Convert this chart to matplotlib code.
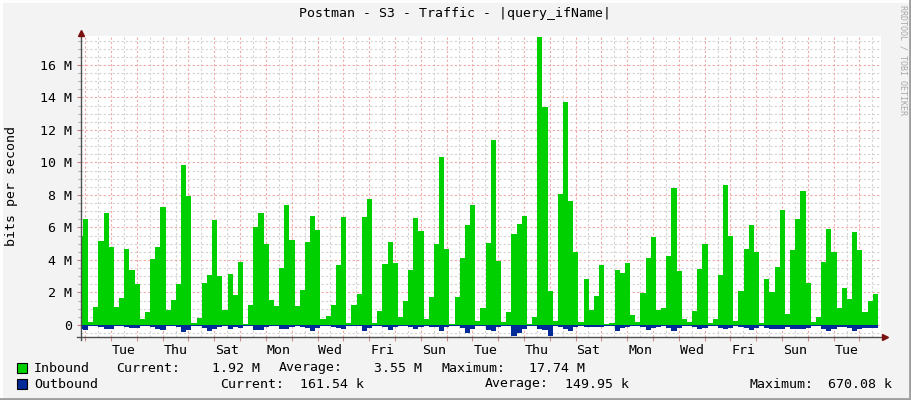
import numpy as np
import matplotlib
matplotlib.use("Agg")
import matplotlib.pyplot as plt
from matplotlib.lines import Line2D
from matplotlib.patches import Rectangle

# ---------------- data (Mbit/s, one value per 4.8 h sample) ----------------
inbound = [
    5.48,
    6.52, 0.16, 1.13, 5.17, 6.89, 4.80, 1.13, 1.66, 4.68, 3.38, 2.52, 0.37, 0.80,
    4.06, 4.80, 7.26, 0.92, 1.54, 2.52, 9.85, 7.94, 0.12, 0.45, 2.58, 3.08, 6.46,
    3.02, 0.92, 3.14, 1.85, 3.88, 0.06, 1.23, 6.03, 6.89, 4.98, 1.54, 1.17, 3.51,
    7.38, 5.23, 1.17, 2.15, 5.11, 6.71, 5.85, 0.37, 0.55, 1.23, 3.69, 6.65, 0.12,
    1.23, 1.91, 6.65, 7.75, 0.12, 0.86, 3.75, 5.11, 3.82, 0.49, 1.48, 3.38, 6.58,
    5.78, 0.37, 1.72, 4.98, 10.34, 4.68, 0.06, 1.72, 4.12, 6.15, 7.38, 0.25, 1.05,
    5.05, 11.38, 3.94, 0.18, 0.80, 5.60, 6.22, 6.71, 0.06, 0.49, 17.74, 13.42, 2.09,
    0.25, 8.06, 13.72, 7.63, 4.49, 0.18, 2.83, 0.92, 1.78, 3.69, 0.06, 0.12, 3.38,
    3.20, 3.82, 0.62, 0.18, 1.97, 4.12, 5.42, 0.92, 1.05, 4.25, 8.43, 3.32, 0.37,
    0.18, 0.86, 3.45, 4.98, 0.12, 0.37, 3.08, 8.62, 5.48, 0.25, 2.09, 4.68, 6.15,
    4.49, 0.12, 2.83, 2.03, 3.57, 7.08, 0.68, 4.62, 6.52, 8.25, 2.58, 0.18, 0.49,
    3.88, 5.91, 4.49, 1.05, 2.28, 1.60, 5.72, 4.62, 0.80, 1.48, 1.92,
]
outbound = [
    0.25,
    0.28, 0.08, 0.06, 0.15, 0.25, 0.25, 0.08, 0.06, 0.15, 0.18, 0.20, 0.05, 0.05,
    0.12, 0.25, 0.28, 0.08, 0.08, 0.15, 0.42, 0.30, 0.06, 0.05, 0.18, 0.38, 0.22,
    0.15, 0.06, 0.25, 0.15, 0.18, 0.04, 0.08, 0.30, 0.30, 0.15, 0.06, 0.06, 0.22,
    0.25, 0.12, 0.05, 0.10, 0.20, 0.35, 0.20, 0.05, 0.05, 0.10, 0.20, 0.25, 0.06,
    0.06, 0.08, 0.37, 0.18, 0.05, 0.05, 0.15, 0.30, 0.12, 0.05, 0.08, 0.15, 0.27,
    0.15, 0.05, 0.10, 0.15, 0.37, 0.15, 0.04, 0.08, 0.20, 0.51, 0.25, 0.06, 0.08,
    0.31, 0.37, 0.15, 0.06, 0.08, 0.67, 0.50, 0.25, 0.05, 0.06, 0.25, 0.30, 0.67,
    0.08, 0.10, 0.25, 0.37, 0.15, 0.05, 0.10, 0.10, 0.10, 0.10, 0.05, 0.05, 0.37,
    0.20, 0.12, 0.08, 0.05, 0.15, 0.28, 0.16, 0.10, 0.08, 0.16, 0.37, 0.16, 0.06,
    0.06, 0.12, 0.22, 0.16, 0.05, 0.05, 0.16, 0.25, 0.16, 0.05, 0.10, 0.18, 0.28,
    0.16, 0.05, 0.16, 0.22, 0.22, 0.22, 0.10, 0.22, 0.22, 0.22, 0.16, 0.08, 0.08,
    0.22, 0.37, 0.22, 0.12, 0.12, 0.16, 0.37, 0.22, 0.16, 0.16, 0.16,
]
ytick_vals = [0, 2, 4, 6, 8, 10, 12, 14, 16]
ytick_labels = ["0", "2 M", "4 M", "6 M", "8 M", "10 M", "12 M", "14 M", "16 M"]
day_labels = ["Tue", "Thu", "Sat", "Mon", "Wed", "Fri", "Sun", "Tue",
              "Thu", "Sat", "Mon", "Wed", "Fri", "Sun", "Tue"]

title = "Postman - S3 - Traffic - |query_ifName|"
legend_rows = [
    ("Inbound", "#00CF00", [("Current:", 116), ("1.92 M", 212), ("Average:", 279),
                            ("3.55 M", 374), ("Maximum:", 441), ("17.74 M", 529)]),
    ("Outbound", "#002A97", [("Current:", 220), ("161.54 k", 300), ("Average:", 485),
                             ("149.95 k", 565), ("Maximum:", 750), ("670.08 k", 828)]),
]

# ---------------- layout ----------------
W, H = 911, 400
MONO = "DejaVu Sans Mono"
FS = 9.5
fig = plt.figure(figsize=(W / 100, H / 100), dpi=100, facecolor="#F3F3F3")

def fx(px):
    return px / W

def fy(py):
    return 1 - py / H

AX_L, AX_R, AX_T, AX_B = 81, 881, 36, 336.7
ax = fig.add_axes([fx(AX_L), fy(AX_B), (AX_R - AX_L) / W, (AX_B - AX_T) / H])
ax.set_facecolor("white")
ax.set_xlim(0, 31.0)
ax.set_ylim(-0.72, 17.78)
for s in ax.spines.values():
    s.set_visible(False)

day0 = 0.165          # first midnight (days from left edge)
step = 0.2            # sample width in days
t_start = 0.0775 - step

# grid
for v in np.arange(-0.5, 17.8, 0.5):
    if abs(v / 2 - round(v / 2)) < 1e-6:
        ax.axhline(v, color="#F2A8A8", lw=0.8, ls=(0, (2, 2)), zorder=0.6)
    else:
        ax.axhline(v, color="#D2D2D2", lw=0.8, ls=(0, (2, 2)), zorder=0.5)
for k in range(32):
    m = day0 + k
    if m < 31:
        ax.axvline(m, color="#F2A8A8", lw=0.8, ls=(0, (2, 2)), zorder=0.6)
    if m + 0.5 < 31:
        ax.axvline(m + 0.5, color="#D2D2D2", lw=0.8, ls=(0, (2, 2)), zorder=0.5)

edges = t_start + step * np.arange(len(inbound) + 1)
ax.stairs(np.array(inbound), edges, baseline=0, fill=True, color="#00CF00", zorder=2)
ax.stairs(-np.array(outbound), edges, baseline=0, fill=True, color="#002A97", zorder=2)

# ticks
ax.set_yticks(ytick_vals, ytick_labels)
ax.set_yticks(np.arange(0.5, 17.8, 0.5), minor=True)
ax.tick_params(axis="y", which="major", length=3, width=0.8, color="#C08080",
               pad=3.6, labelsize=FS, labelfontfamily=MONO)
ax.tick_params(axis="y", which="minor", length=2, width=0.8, color="#B0B0B0")
label_pos = [day0 + k + 0.5 for k in range(1, 30, 2)]
ax.set_xticks(label_pos, day_labels)
ax.set_xticks([day0 + k for k in range(31)], minor=True)
ax.tick_params(axis="x", which="major", length=0, pad=5, labelsize=FS, labelfontfamily=MONO)
ax.tick_params(axis="x", which="minor", length=3, width=0.8, color="#D09090")

# axis lines and arrows
fig.add_artist(Line2D([fx(AX_L), fx(AX_L)], [fy(340), fy(33)], color="#505050", lw=1.0))
fig.add_artist(Line2D([fx(77), fx(884)], [fy(AX_B), fy(AX_B)], color="#505050", lw=1.0))
fig.add_artist(Line2D([fx(AX_L)], [fy(32.5)], marker="^", ms=5, color="#7A1010", mec="#7A1010"))
fig.add_artist(Line2D([fx(885)], [fy(AX_B)], marker=">", ms=5, color="#7A1010", mec="#7A1010"))

# texts
fig.text(fx(455), fy(14), title, ha="center", va="center", family=MONO, fontsize=FS)
fig.text(fx(12), fy(186), "bits per second", rotation=90, ha="center", va="center",
         family=MONO, fontsize=FS)
fig.text(fx(903), fy(60), "RRDTOOL / TOBI OETIKER", rotation=270, ha="center",
         va="center", family=MONO, fontsize=6, color="#A8A8A8")

for i, (name, col, items) in enumerate(legend_rows):
    yc = 368 + 16 * i
    fig.add_artist(Rectangle((fx(17), fy(yc + 5)), 10 / W, 10 / H, facecolor=col,
                             edgecolor="black", lw=0.8))
    fig.text(fx(34), fy(yc), name, ha="left", va="center", family=MONO, fontsize=FS)
    for s, xpx in items:
        fig.text(fx(xpx), fy(yc), s, ha="left", va="center", family=MONO, fontsize=FS)

# 3D frame
fig.add_artist(Line2D([0, 1], [fy(1), fy(1)], color="#FFFFFF", lw=2))
fig.add_artist(Line2D([fx(1), fx(1)], [0, 1], color="#FFFFFF", lw=2))
fig.add_artist(Line2D([0, 1], [fy(399), fy(399)], color="#9E9E9E", lw=2))
fig.add_artist(Line2D([fx(910), fx(910)], [0, 1], color="#9E9E9E", lw=2))

fig.savefig("out.png", dpi=100, facecolor=fig.get_facecolor())
